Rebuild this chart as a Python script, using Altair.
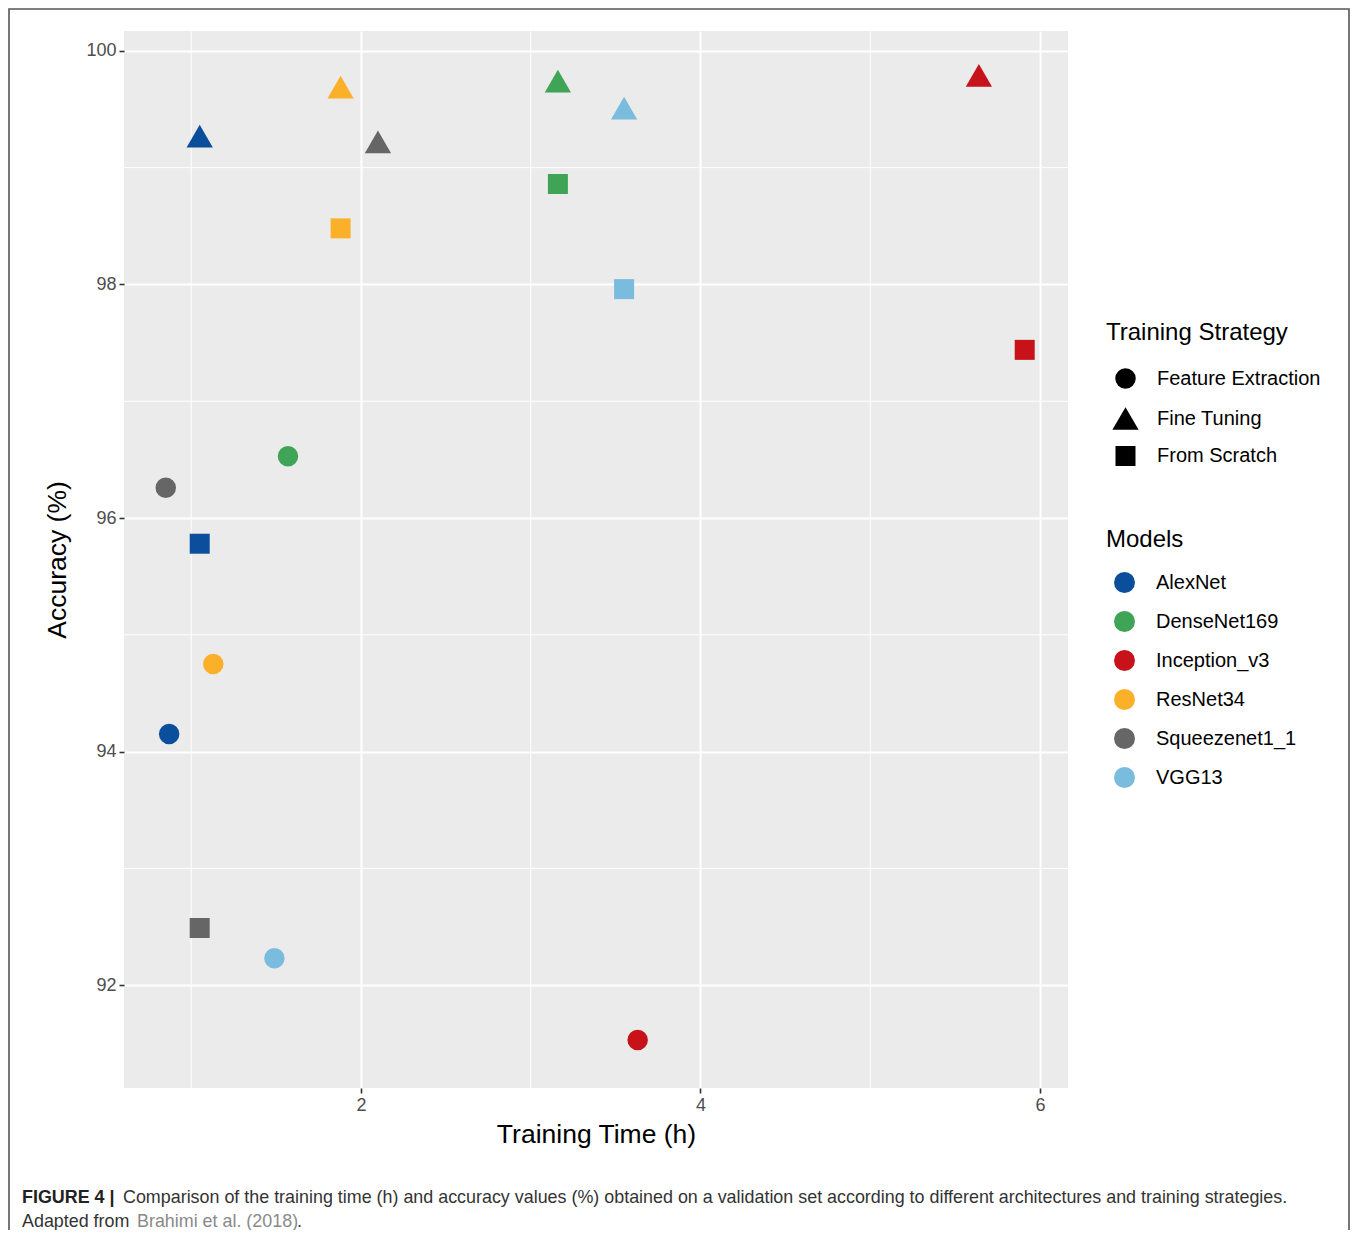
import altair as alt
import pandas as pd

# ---------------- data ----------------
models = ["AlexNet", "DenseNet169", "Inception_v3", "ResNet34", "Squeezenet1_1", "VGG13"]
strategies = ["Feature Extraction", "Fine Tuning", "From Scratch"]
model_colors = ["#0B4F9C", "#3FA456", "#C8121A", "#FBB02A", "#666666", "#7ABCDD"]
strategy_shapes = ["circle", "triangle-up", "square"]
strategy_sizes = [420, 690, 400]

fe_time = [0.87, 1.57, 3.63, 1.13, 0.85, 1.49]
fe_acc = [94.15, 96.53, 91.53, 94.75, 96.26, 92.23]
ft_time = [1.05, 3.16, 5.64, 1.88, 2.10, 3.55]
ft_acc = [99.27, 99.74, 99.79, 99.69, 99.22, 99.51]
fs_time = [1.05, 3.16, 5.91, 1.88, 1.05, 3.55]
fs_acc = [95.78, 98.86, 97.44, 98.48, 92.49, 97.96]

x_major = [2, 4, 6]
x_minor = [1, 3, 5]
y_major = [92, 94, 96, 98, 100]
y_minor = [93, 95, 97, 99]
x_domain = [0.604, 6.165]
y_domain = [91.12, 100.17]

caption_bold = "FIGURE 4 |"
caption_line1 = ("Comparison of the training time (h) and accuracy values (%) obtained on a "
                 "validation set according to different architectures and training strategies.")
caption_line2a = "Adapted from"
caption_link = "Brahimi et al. (2018)"
caption_end = "."

FONT = "Liberation Sans"

rows = []
for strat, times, accs in [(strategies[0], fe_time, fe_acc),
                           (strategies[1], ft_time, ft_acc),
                           (strategies[2], fs_time, fs_acc)]:
    for m, t, a in zip(models, times, accs):
        rows.append({"model": m, "strategy": strat, "time": t, "acc": a})
df = pd.DataFrame(rows)

W, H = 944, 1057

xs = alt.Scale(domain=x_domain, nice=False, zero=False)
ys = alt.Scale(domain=y_domain, nice=False, zero=False)

x_axis = alt.Axis(values=x_major, title="Training Time (h)", grid=True, gridColor="white",
                  gridWidth=2, domain=False, tickColor="#333333", tickSize=5, tickWidth=1.6,
                  labelColor="#4D4D4D", labelFontSize=18, labelPadding=3, labelFont=FONT,
                  titleFont=FONT, titleFontSize=26.5, titleFontWeight="normal",
                  titleColor="black", titlePadding=7)
y_axis = alt.Axis(values=y_major, title="Accuracy (%)", grid=True, gridColor="white",
                  gridWidth=2, domain=False, tickColor="#333333", tickSize=5, tickWidth=1.6,
                  labelColor="#4D4D4D", labelFontSize=18, labelPadding=3, labelFont=FONT,
                  titleFont=FONT, titleFontSize=26.5, titleFontWeight="normal",
                  titleColor="black", titlePadding=14)

legend_common = dict(orient="none", legendX=982, symbolStrokeWidth=0, titleFontSize=24,
                     titleFont=FONT, titleFontWeight="normal", titleColor="black",
                     labelFont=FONT, labelFontSize=20, labelColor="black",
                     labelLimit=0, titleLimit=0)

strategy_legend = alt.Legend(title="Training Strategy", legendY=290, symbolFillColor="black",
                             labelOffset=18, symbolOffset=6, rowPadding=16, titlePadding=23,
                             **legend_common)

color_enc = alt.Color("model:N", scale=alt.Scale(domain=models, range=model_colors),
                      legend=alt.Legend(title="Models", legendY=497, symbolType="circle",
                                        symbolSize=440, labelOffset=21, symbolOffset=8,
                                        rowPadding=18, titlePadding=20, **legend_common))
shape_enc = alt.Shape("strategy:N", scale=alt.Scale(domain=strategies, range=strategy_shapes),
                      legend=strategy_legend)
size_enc = alt.Size("strategy:N",
                    scale=alt.Scale(type="ordinal", domain=strategies, range=strategy_sizes),
                    legend=strategy_legend)

minor_x = alt.Chart(pd.DataFrame({"v": x_minor})).mark_rule(color="white", strokeWidth=1).encode(
    x=alt.X("v:Q", scale=xs, axis=x_axis))
minor_y = alt.Chart(pd.DataFrame({"v": y_minor})).mark_rule(color="white", strokeWidth=1).encode(
    y=alt.Y("v:Q", scale=ys, axis=y_axis))

points = alt.Chart(df).mark_point(filled=True, opacity=1).encode(
    x=alt.X("time:Q", scale=xs, axis=x_axis),
    y=alt.Y("acc:Q", scale=ys, axis=y_axis),
    color=color_enc,
    shape=shape_enc,
    size=size_enc,
)

one = pd.DataFrame({"k": [0]})
frame = alt.Chart(one).mark_rect(filled=False, stroke="#555555", strokeWidth=1.6).encode(
    x=alt.value(-115), x2=alt.value(1225), y=alt.value(-22), y2=alt.value(1300))

def txt(s, x, y, color="#333333", weight="normal"):
    return alt.Chart(one).mark_text(align="left", baseline="middle", font=FONT, fontSize=17.9,
                                    color=color, fontWeight=weight).encode(
        x=alt.value(x), y=alt.value(y), text=alt.value(s))

cap = [
    txt(caption_bold, -102, 1167, color="#222222", weight="bold"),
    txt(caption_line1, -1, 1167),
    txt(caption_line2a, -102, 1191),
    txt(caption_link, 13, 1191, color="#8A8A8A"),
    txt(caption_end, 173, 1191),
]

chart = alt.layer(minor_x, minor_y, points, frame, *cap).properties(
    width=W, height=H,
    background="white",
    autosize=alt.AutoSizeParams(type="none"),
    padding={"left": 116, "top": 23, "right": 282, "bottom": 142},
).configure_view(fill="#EBEBEB", stroke=None, strokeWidth=0)

chart.save("out.html", embed_options={"renderer": "svg", "actions": False})
